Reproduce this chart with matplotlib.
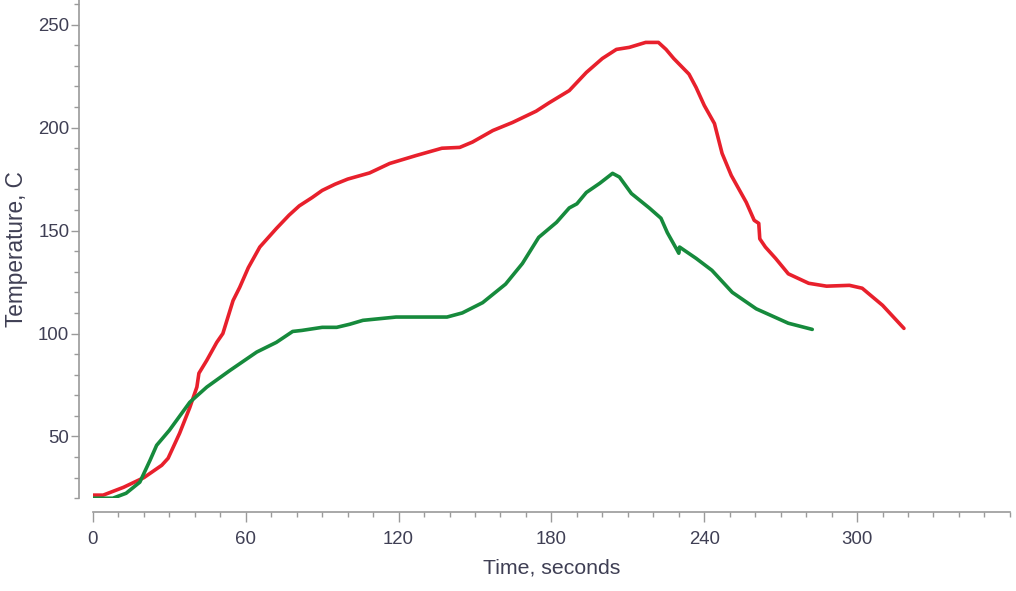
import numpy as np
import matplotlib
matplotlib.use("Agg")
import matplotlib.pyplot as plt
from matplotlib.ticker import MultipleLocator

# red curve (time s, temperature C)
red_t = [0, 4, 12, 20, 27, 29.5, 34, 38, 40.8, 41.6, 44.7, 48.6, 51, 53, 55, 57.6,
         61, 65.5, 72, 77, 81, 86, 90, 95, 100, 108.6, 116.5, 127, 137, 144,
         149, 157, 164.7, 174, 179, 187, 193.7, 200, 205.5, 210.6, 217, 222, 225,
         228, 234, 236.8, 240, 244, 247, 250.6, 256.5, 259.6, 261.4, 261.8, 264,
         268, 273, 281, 288, 297, 302, 310, 318.4]
red_T = [21.5, 21.5, 25.3, 30, 36, 39.4, 51.5, 64, 74, 80.7, 87, 95.7, 100, 108, 116, 122.4,
         132, 142, 151, 157.5, 162, 166, 169.5, 172.5, 175, 178, 182.6, 186.5, 190, 190.4,
         193, 198.6, 202.5, 208, 212, 218, 226.8, 233.6, 238, 239, 241.4, 241.4, 238,
         233.6, 226, 219.5, 210.8, 202, 187.5, 176.8, 163.7, 155, 153.5, 146, 142,
         136.5, 129, 124.4, 123, 123.4, 122, 113.7, 102.5]

# green curve
green_t = [0, 7.8, 13, 18.4, 22.4, 25, 30, 38, 44.7, 53.7, 64.3, 72, 78.4, 82, 90, 95.7,
           100.8, 106, 119, 139, 145, 153, 162, 168.6, 175, 182, 187, 190, 193.7, 199,
           204, 206.7, 211.4, 218.4, 223, 225.5, 229.4, 230, 230.3, 236.8, 243, 251,
           260.4, 273, 282.4]
green_T = [20, 20, 22.4, 27.8, 38.4, 45.7, 53, 66.6, 74, 82, 91, 95.7, 101, 101.5, 103, 103,
           104.5, 106.4, 108, 108, 110, 115, 124, 134, 146.7, 154, 161, 163, 168.5, 173,
           177.8, 176, 168, 161, 156, 149, 140.4, 139, 142, 136.5, 130.7, 120,
           112, 105, 102]

x_ticks = [0, 60, 120, 180, 240, 300]
y_ticks = [50, 100, 150, 200, 250]

plt.rcParams['font.family'] = ['Liberation Sans', 'DejaVu Sans']
text_col = '#3f3f54'
axis_col = '#9a9a9a'

fig = plt.figure(figsize=(10.16, 5.91), dpi=100)
ax = fig.add_axes([0.0915, 0.157, 0.9025, 0.843])

ax.plot(red_t, red_T, color='#e8202c', lw=2.6, solid_capstyle='round', solid_joinstyle='round')
ax.plot(green_t, green_T, color='#168a3c', lw=2.6, solid_capstyle='round', solid_joinstyle='round')

ax.set_xlim(0, 360)
ax.set_ylim(20, 262)

for s in ['top', 'right']:
    ax.spines[s].set_visible(False)
ax.spines['left'].set_position(('outward', 10))
ax.spines['bottom'].set_position(('outward', 10))
ax.spines['left'].set_bounds(20, 262)
ax.spines['bottom'].set_bounds(0, 360)
for s in ['left', 'bottom']:
    ax.spines[s].set_color(axis_col)
    ax.spines[s].set_linewidth(1.2)

ax.set_xticks(x_ticks)
ax.set_yticks(y_ticks)
ax.xaxis.set_minor_locator(MultipleLocator(10))
ax.yaxis.set_minor_locator(MultipleLocator(10))
ax.tick_params(which='major', width=1, color=axis_col, labelcolor=text_col, labelsize=13.4)
ax.tick_params(which='minor', length=3.6, width=1, color=axis_col)
ax.tick_params(axis='x', which='major', length=7, pad=6.5)
ax.tick_params(axis='y', which='major', length=6, pad=1)

ax.set_xlabel('Time, seconds', fontsize=15.3, color=text_col, labelpad=8)
ax.set_ylabel('Temperature, C', fontsize=16.3, color=text_col, labelpad=7)

fig.savefig('out.png', dpi=100)
